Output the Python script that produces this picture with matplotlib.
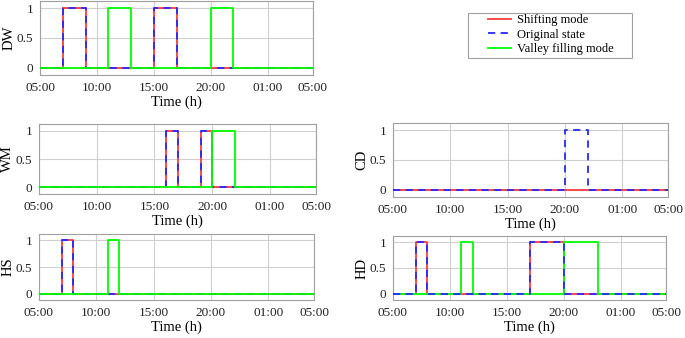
import numpy as np
import matplotlib
matplotlib.use("Agg")
import matplotlib.pyplot as plt
from matplotlib.lines import Line2D
from matplotlib.patches import Rectangle

plt.rcParams['font.family'] = ['Liberation Serif', 'DejaVu Serif']
plt.rcParams['mathtext.fontset'] = 'stix'

# hours elapsed since 05:00 (24 hourly slots)
hours = np.arange(25)
tick_pos = [0, 5, 10, 15, 20, 24]
tick_labels = ["05:00", "10:00", "15:00", "20:00", "01:00", "05:00"]
y_ticks = [0, 0.5, 1]
y_tick_labels = ["0", "0.5", "1"]

DW_original = [0,0,1,1,0,0,0,0,0,0,1,1,0,0,0,0,0,0,0,0,0,0,0,0]
DW_shifting = [0,0,1,1,0,0,0,0,0,0,1,1,0,0,0,0,0,0,0,0,0,0,0,0]
DW_valley   = [0,0,0,0,0,0,1,1,0,0,0,0,0,0,0,1,1,0,0,0,0,0,0,0]

WM_original = [0,0,0,0,0,0,0,0,0,0,0,1,0,0,1,0,0,0,0,0,0,0,0,0]
WM_shifting = [0,0,0,0,0,0,0,0,0,0,0,1,0,0,1,0,0,0,0,0,0,0,0,0]
WM_valley   = [0,0,0,0,0,0,0,0,0,0,0,0,0,0,0,1,1,0,0,0,0,0,0,0]

HS_original = [0,0,1,0,0,0,0,0,0,0,0,0,0,0,0,0,0,0,0,0,0,0,0,0]
HS_shifting = [0,0,1,0,0,0,0,0,0,0,0,0,0,0,0,0,0,0,0,0,0,0,0,0]
HS_valley   = [0,0,0,0,0,0,1,0,0,0,0,0,0,0,0,0,0,0,0,0,0,0,0,0]

CD_original = [0,0,0,0,0,0,0,0,0,0,0,0,0,0,0,1,1,0,0,0,0,0,0,0]
CD_shifting = [0,0,0,0,0,0,0,0,0,0,0,0,0,0,0,0,0,0,0,0,0,0,0,0]

HD_original = [0,0,1,0,0,0,0,0,0,0,0,0,1,1,1,0,0,0,0,0,0,0,0,0]
HD_shifting = [0,0,1,0,0,0,0,0,0,0,0,0,1,1,1,0,0,0,0,0,0,0,0,0]
HD_valley   = [0,0,0,0,0,0,1,0,0,0,0,0,0,0,0,1,1,1,0,0,0,0,0,0]

labels = ["Shifting mode", "Original state", "Valley filling mode"]
c_red = "#ff3b3b"
c_blue = "#2828ff"
c_green = "#00ff00"

W, H = 685, 338
fig = plt.figure(figsize=(W / 100, H / 100), dpi=100)


def box(l, r, t, b):
    return [l / W, 1 - b / H, (r - l) / W, (b - t) / H]


def step(v):
    return list(v) + [v[-1]]


def panel(rect, name, orig, shift, valley, green_under=False):
    ax = fig.add_axes(rect)
    ax.plot(hours, step(shift), drawstyle="steps-post", color=c_red, lw=1.3, zorder=3)
    if valley is not None and green_under:
        ax.plot(hours, step(valley), drawstyle="steps-post", color=c_green, lw=1.3, zorder=4)
    ax.plot(hours, step(orig), drawstyle="steps-post", color=c_blue, lw=1.3,
            ls=(0, (4, 3)), zorder=5)
    if valley is not None and not green_under:
        ax.plot(hours, step(valley), drawstyle="steps-post", color=c_green, lw=1.3, zorder=6)
    ax.set_xlim(0, 24)
    ax.set_ylim(-0.12, 1.12)
    ax.set_xticks(tick_pos)
    ax.set_xticklabels(tick_labels)
    ax.set_yticks(y_ticks)
    ax.set_yticklabels(y_tick_labels)
    ax.tick_params(labelsize=9.5, length=0, pad=5, colors="#222222")
    ax.grid(True, color="#d0d0d0", lw=0.8)
    for s in ax.spines.values():
        s.set_color("#a0a0a0")
        s.set_linewidth(0.8)
    ax.set_xlabel("Time (h)", fontsize=10.5, labelpad=1)
    ax.set_ylabel(name, fontsize=10.5, labelpad=1)
    return ax


panel(box(40, 313, 1, 75), "DW", DW_original, DW_shifting, DW_valley)
panel(box(39, 316, 124, 194), "WM", WM_original, WM_shifting, WM_valley)
panel(box(39, 314, 234, 300), "HS", HS_original, HS_shifting, HS_valley)
panel(box(393, 668, 123, 197), "CD", CD_original, CD_shifting, None)
panel(box(393, 666, 236, 300), "HD", HD_original, HD_shifting, HD_valley, green_under=True)

# legend
fig.patches.append(Rectangle((468 / W, 1 - 58 / H), (632 - 468) / W, 45 / H,
                             transform=fig.transFigure, fill=False,
                             edgecolor="#a0a0a0", lw=0.8))
handles = [Line2D([], [], color=c_red, lw=1.3),
           Line2D([], [], color=c_blue, lw=1.3, ls=(0, (4, 3))),
           Line2D([], [], color=c_green, lw=1.3)]
fig.legend(handles, labels, loc="upper left", bbox_to_anchor=(486 / W, 1 - 12 / H),
           frameon=False, fontsize=9, handlelength=1.8, handletextpad=0.45,
           labelspacing=0.18, borderpad=0.2, borderaxespad=0)

fig.savefig("out.png", dpi=100)
